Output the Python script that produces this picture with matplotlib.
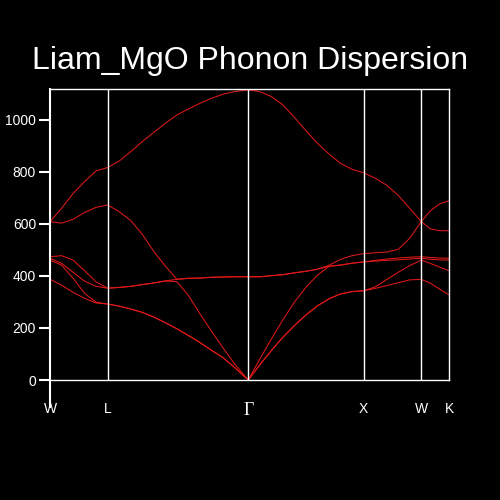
import matplotlib
matplotlib.use('Agg')
from matplotlib import pyplot as plt

# path positions of the sampled q-points (Gamma-X = 1)
k = [0.0, 0.1, 0.2, 0.3, 0.4, 0.5,
     0.6, 0.7, 0.8, 0.9, 1.0, 1.1, 1.2, 1.3, 1.4, 1.5, 1.6, 1.718,
     1.818, 1.918, 2.018, 2.118, 2.218, 2.318, 2.418, 2.518, 2.618, 2.718,
     2.818, 2.918, 3.018, 3.118, 3.218,
     3.298, 3.378, 3.461]

tick_pos = [0.0, 0.5, 1.718, 2.718, 3.218, 3.461]
tick_labels = ['W', 'L', '\u0393', 'X', 'W', 'K']

# frequencies (cm-1), one list per band
band1 = [387, 365, 337, 314, 296, 292,
         284, 273, 260, 242, 220, 197, 171, 144, 114, 86, 48, 0,
         58, 113, 164, 209, 250, 285, 312, 331, 340, 343,
         352, 363, 374, 385, 387,
         372, 349, 327]
band2 = [461, 442, 391, 333, 299, 292,
         284, 273, 260, 242, 220, 197, 171, 144, 114, 86, 48, 0,
         58, 113, 164, 209, 250, 285, 312, 331, 340, 343,
         358, 386, 414, 440, 461,
         448, 434, 420]
band3 = [468, 449, 414, 380, 360, 353,
         356, 360, 367, 373, 381, 378, 325, 254, 188, 123, 62, 0,
         80, 157, 231, 299, 356, 403, 437, 442, 449, 454,
         457, 460, 462, 465, 468,
         464, 462, 461]
band4 = [474, 478, 461, 420, 377, 353,
         356, 360, 367, 373, 381, 387, 391, 392, 395, 396, 397, 397,
         397, 401, 405, 412, 418, 426, 437, 442, 449, 454,
         460, 465, 469, 472, 474,
         471, 469, 468]
band5 = [609, 603, 618, 644, 664, 673,
         647, 613, 560, 494, 438, 387, 391, 392, 395, 396, 397, 397,
         397, 401, 405, 412, 418, 426, 441, 464, 478, 486,
         489, 492, 502, 545, 609,
         581, 574, 574]
band6 = [609, 660, 717, 763, 804, 817,
         842, 878, 917, 952, 987, 1019, 1042, 1064, 1083, 1099, 1109, 1115,
         1109, 1090, 1058, 1010, 959, 910, 869, 833, 810, 797,
         776, 749, 710, 660, 609,
         651, 677, 690]

yticks = [0, 200, 400, 600, 800, 1000]

fig = plt.figure(figsize=(5, 5), dpi=100, facecolor='black')
ax = fig.add_axes([0.1, 0.24, 0.7986, 0.5826], facecolor='black')

for b in [band1, band2, band3, band4, band5, band6]:
    ax.plot(k, b, color='#e01818', lw=0.75)

for t in tick_pos[1:-1]:
    ax.axvline(t, color='white', lw=1)

ax.set_xlim(tick_pos[0], tick_pos[-1])
ax.set_ylim(0, 1120)

for s in ax.spines.values():
    s.set_color('white')
    s.set_linewidth(1)
ax.spines['left'].set_linewidth(1.5)
ax.spines['left'].set_bounds(-103, 1120)

ax.set_yticks(yticks)
ax.tick_params(axis='y', colors='white', length=8, width=1.5, pad=2,
               labelsize=10, left=True, right=False)
for lab in ax.get_yticklabels():
    lab.set_family('Liberation Sans')

ax.set_xticks(tick_pos)
ax.set_xticklabels(tick_labels)
ax.tick_params(axis='x', colors='white', length=0, pad=16, labelsize=10)
for lab in ax.get_xticklabels():
    if lab.get_text() == '\u0393':
        lab.set_family('Liberation Serif')
        lab.set_fontsize(13)
    else:
        lab.set_family('Liberation Sans')

fig.text(0.5, 0.862, 'Liam_MgO Phonon Dispersion', color='white',
         fontsize=23, family='Liberation Sans', ha='center', va='baseline')
fig.text(0.007, 0.54, 'Frequency (cm$^{-1}$)', color='white', fontsize=11,
         rotation=90, ha='right', va='center', family='Liberation Sans')

fig.savefig('out.png', dpi=100, facecolor='black')
